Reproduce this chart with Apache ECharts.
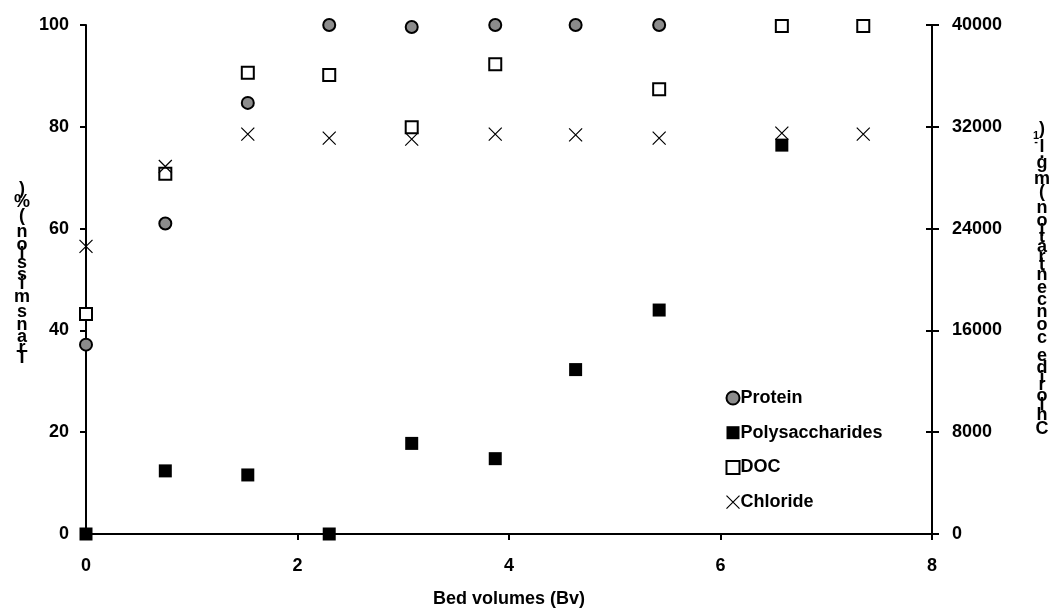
<!DOCTYPE html>
<html><head><meta charset="utf-8">
<script src="https://cdn.jsdelivr.net/npm/echarts@6/dist/echarts.min.js"></script>
<style>html,body{margin:0;padding:0;background:#fff}#c{width:1059px;height:615px}</style>
</head><body><div id="c"></div>
<script>
// ---- data ----
const bedVolumes      = [0, 0.75, 1.53, 2.30, 3.08, 3.87, 4.63, 5.42, 6.58, 7.35];
const protein         = [37.2, 61.0, 84.7, 100, 99.6, 100, 100, 100, null, null];
const polysaccharides = [0, 12.4, 11.6, 0, 17.8, 14.8, 32.3, 44.0, 76.4, null];
const doc             = [43.2, 70.8, 90.6, 90.2, 79.9, 92.3, null, 87.4, 99.8, 99.8];
const chloride        = [22600, 28880, 31420, 31110, 31030, 31420, 31370, 31110, 31500, 31420];
const seriesNames     = ['Protein', 'Polysaccharides', 'DOC', 'Chloride'];
const xTitle = 'Bed volumes (Bv)';
const leftTitle = 'Transmission (%)';
const rightTitleMain = 'Chloride concentration (mg.l';
const rightTitleSup = '-1';
const rightTitleEnd = ')';

const FONT = '"Liberation Sans", Arial, Helvetica, sans-serif';
const pair = (ys) => bedVolumes.map((x, i) => [x, ys[i]]).filter(p => p[1] != null);

// stacked upright characters (original title rendering)
const cv = document.createElement('canvas').getContext('2d');
function adv(ch, size) { cv.font = 'bold ' + size + 'px ' + FONT; return cv.measureText(ch).width; }
function stack(parts, cx, yBottom, scale) {
  const els = []; let y = yBottom;
  parts.forEach(p => {
    for (const ch of p.text) {
      const a = adv(ch, p.advSize || p.size) * scale;
      els.push({ type: 'text', silent: true, x: cx + (p.dx || 0), y: y - a / 2,
        style: { text: ch, font: 'bold ' + p.size + 'px ' + FONT, fill: '#000', align: 'center', verticalAlign: 'middle' } });
      y -= a;
    }
  });
  return els;
}
const SC = 21.5 / 18;
const leftEls = stack([{ text: leftTitle, size: 18 }], 22, 365, SC);
const rightEls = stack([
  { text: rightTitleMain, size: 18 },
  { text: rightTitleSup, size: 11, dx: -6 },
  { text: rightTitleEnd, size: 18 }
], 1042, 437, SC);

const chart = echarts.init(document.getElementById('c'), null, { renderer: 'canvas' });
const axisLine = { show: true, lineStyle: { color: '#000', width: 2 } };
const labelStyle = { color: '#000', fontFamily: FONT, fontWeight: 'bold', fontSize: 18 };
const plain = v => String(v);
chart.setOption({
  animation: false,
  backgroundColor: '#fff',
  grid: { left: 86, right: 127, top: 25, bottom: 81, containLabel: false },
  xAxis: {
    type: 'value', min: 0, max: 8, interval: 2,
    name: xTitle, nameLocation: 'middle', nameGap: 56,
    nameTextStyle: { color: '#000', fontFamily: FONT, fontWeight: 'bold', fontSize: 18 },
    axisLine: axisLine, axisTick: { show: true, length: 6, lineStyle: { color: '#000', width: 2 } },
    axisLabel: Object.assign({ margin: 23, formatter: plain }, labelStyle),
    splitLine: { show: false }
  },
  yAxis: [
    { type: 'value', min: 0, max: 100, interval: 20, position: 'left',
      axisLine: axisLine, axisTick: { show: true, length: 6, lineStyle: { color: '#000', width: 2 } },
      axisLabel: Object.assign({ margin: 17, formatter: plain }, labelStyle), splitLine: { show: false } },
    { type: 'value', min: 0, max: 40000, interval: 8000, position: 'right',
      axisLine: axisLine, axisTick: { show: true, length: 7, lineStyle: { color: '#000', width: 2 } },
      axisLabel: Object.assign({ margin: 20, formatter: plain }, labelStyle), splitLine: { show: false } },
    { type: 'value', min: 0, max: 40000, interval: 8000, position: 'right',
      axisLine: { show: false }, axisTick: { show: true, inside: true, length: 6, lineStyle: { color: '#000', width: 2 } },
      axisLabel: { show: false }, splitLine: { show: false } }
  ],
  legend: {
    orient: 'vertical', left: 719, top: 383, itemGap: 14.7,
    itemWidth: 13, itemHeight: 13, itemStyle: { borderWidth: 'inherit' },
    textStyle: { color: '#000', fontFamily: FONT, fontWeight: 'bold', fontSize: 18, lineHeight: 20, padding: [0, 0, 0, -4] },
    data: seriesNames, selectedMode: false
  },
  series: [
    { name: seriesNames[0], type: 'scatter', yAxisIndex: 0, data: pair(protein),
      symbol: 'circle', symbolSize: 12,
      itemStyle: { color: '#8c8c8c', borderColor: '#000', borderWidth: 2, opacity: 1 } },
    { name: seriesNames[1], type: 'scatter', yAxisIndex: 0, data: pair(polysaccharides),
      symbol: 'rect', symbolSize: 13,
      itemStyle: { color: '#000', borderColor: '#000', borderWidth: 0, opacity: 1 } },
    { name: seriesNames[2], type: 'scatter', yAxisIndex: 0, data: pair(doc),
      symbol: 'rect', symbolSize: 12,
      itemStyle: { color: '#fff', borderColor: '#000', borderWidth: 2, opacity: 1 } },
    { name: seriesNames[3], type: 'scatter', yAxisIndex: 1, data: pair(chloride),
      symbol: 'path://M0,0L12,12M12,0L0,12', symbolSize: 13,
      itemStyle: { color: 'none', borderColor: '#000', borderWidth: 1.2, opacity: 1 } }
  ],
  graphic: leftEls.concat(rightEls)
});
</script></body></html>
